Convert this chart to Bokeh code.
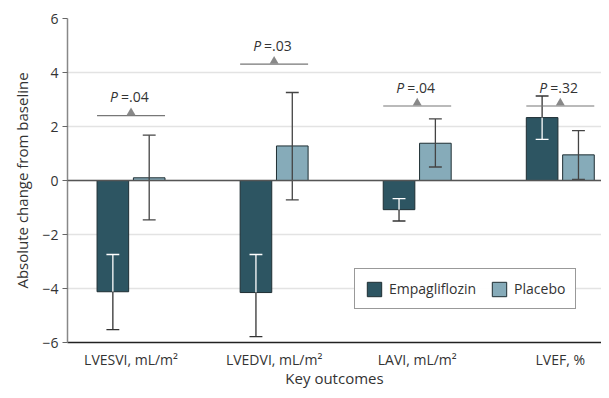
from bokeh.plotting import figure
from bokeh.models import FixedTicker, Span, Range1d, Legend, LegendItem
from bokeh.core.properties import value
from bokeh.embed import file_html
from bokeh.resources import INLINE

# ---- data ----
categories = ["LVESVI, mL/m\u00b2", "LVEDVI, mL/m\u00b2", "LAVI, mL/m\u00b2", "LVEF, %"]
empa_mean = [-4.12, -4.15, -1.08, 2.33]
empa_low = [-5.52, -5.78, -1.50, 1.52]
empa_high = [-2.74, -2.74, -0.67, 3.13]
plac_mean = [0.10, 1.28, 1.38, 0.95]
plac_low = [-1.46, -0.72, 0.50, 0.04]
plac_high = [1.68, 3.26, 2.28, 1.85]
p_labels = ["=.04", "=.03", "=.04", "=.32"]
p_text_y = [3.10, 5.00, 3.44, 3.44]
p_line_y = [2.40, 4.31, 2.76, 2.76]
y_ticks = [-6, -4, -2, 0, 2, 4, 6]

FONT = "Open Sans"
TXT = "#333333"
EMPA = "#2d5562"
PLAC = "#86abb9"

x_lo, x_hi = 0.556, 4.288
p = figure(width=601, height=390, output_backend="svg", toolbar_location=None,
           x_range=Range1d(x_lo, x_hi), y_range=Range1d(-6, 6),
           min_border_left=67, min_border_right=0, min_border_top=18, min_border_bottom=45)
p.outline_line_color = None
p.background_fill_color = "white"

xs = [i + 1 for i in range(len(categories))]
off = 0.127
bw = 0.221
cap = 0.045
ex = [x - off for x in xs]
px = [x + off for x in xs]

# grid
p.xgrid.grid_line_color = None
p.ygrid.grid_line_color = "#e3e3e3"
p.ygrid.grid_line_width = 1.5
p.yaxis.ticker = FixedTicker(ticks=y_ticks)
p.xaxis.ticker = FixedTicker(ticks=xs)
p.xaxis.major_label_overrides = {x: c for x, c in zip(xs, categories)}

zero = Span(location=0, dimension="width", line_color="#555555", line_width=1.5)
p.add_layout(zero)

r_e = p.vbar(x=ex, top=empa_mean, bottom=0, width=bw, fill_color=EMPA, line_color="#1e2e33", line_width=1)
r_p = p.vbar(x=px, top=plac_mean, bottom=0, width=bw, fill_color=PLAC, line_color="#1e2e33", line_width=1)

# error bars: split into inside (toward zero) and outside parts
def split(mean, low, high):
    ins_end, out_end = [], []
    for m, l, h in zip(mean, low, high):
        if m >= 0:
            ins_end.append(l); out_end.append(h)
        else:
            ins_end.append(h); out_end.append(l)
    return ins_end, out_end

e_in, e_out = split(empa_mean, empa_low, empa_high)
p.segment(x0=ex, y0=empa_mean, x1=ex, y1=e_in, line_color="white", line_width=1.3)
p.segment(x0=[x - cap for x in ex], y0=e_in, x1=[x + cap for x in ex], y1=e_in, line_color="white", line_width=1.3)
p.segment(x0=ex, y0=empa_mean, x1=ex, y1=e_out, line_color="#333333", line_width=1.3)
p.segment(x0=[x - cap for x in ex], y0=e_out, x1=[x + cap for x in ex], y1=e_out, line_color="#333333", line_width=1.3)

p.segment(x0=px, y0=plac_low, x1=px, y1=plac_high, line_color="#444444", line_width=1.3)
p.segment(x0=[x - cap for x in px], y0=plac_low, x1=[x + cap for x in px], y1=plac_low, line_color="#444444", line_width=1.3)
p.segment(x0=[x - cap for x in px], y0=plac_high, x1=[x + cap for x in px], y1=plac_high, line_color="#444444", line_width=1.3)

# P-value annotations
p.segment(x0=[x - off - bw / 2 for x in xs], y0=p_line_y, x1=[x + off + bw / 2 for x in xs], y1=p_line_y,
          line_color="#777777", line_width=1.2)
p.scatter(x=xs, y=[y + 0.11 for y in p_line_y], marker="triangle", size=9, fill_color="#888888", line_color=None)
p.text(x=xs, y=p_text_y, text=["P"] * 4, text_font=value(FONT), text_font_style="italic",
       text_font_size="14px", text_color=TXT, text_align="right", text_baseline="middle", x_offset=-13)
p.text(x=xs, y=p_text_y, text=p_labels, text_font=value(FONT),
       text_font_size="14px", text_color=TXT, text_align="left", text_baseline="middle", x_offset=-10)

# axes
p.yaxis.axis_label = "Absolute change from baseline"
p.xaxis.axis_label = "Key outcomes"
for ax in (p.xaxis, p.yaxis):
    ax.axis_label_text_font = FONT
    ax.axis_label_text_font_size = "15px"
    ax.axis_label_text_font_style = "normal"
    ax.axis_label_text_color = TXT
    ax.major_label_text_font = FONT
    ax.major_label_text_font_size = "14px"
    ax.major_label_text_color = TXT
    ax.minor_tick_line_color = None
p.yaxis.axis_line_color = "#888888"
p.yaxis.axis_line_width = 1.5
p.yaxis.major_tick_line_color = "#666666"
p.yaxis.major_tick_out = 5
p.yaxis.major_tick_in = 0
p.yaxis.major_label_standoff = 4
p.yaxis.axis_label_standoff = 7
p.xaxis.axis_line_color = "#222222"
p.xaxis.axis_line_width = 1.5
p.xaxis.major_tick_line_color = None
p.xaxis.major_tick_out = 0
p.xaxis.major_tick_in = 0
p.xaxis.major_label_standoff = 7
p.xaxis.axis_label_standoff = -4

legend = Legend(items=[LegendItem(label="Empagliflozin", renderers=[r_e]),
                       LegendItem(label="Placebo", renderers=[r_p])],
                orientation="horizontal", location=(287, 33))
legend.label_text_font = FONT
legend.label_text_font_size = "14px"
legend.label_text_color = TXT
legend.border_line_color = "#333333"
legend.border_line_width = 1.2
legend.glyph_width = 18
legend.glyph_height = 18
legend.padding = 10
legend.spacing = 14
legend.label_standoff = 6
legend.margin = 0
p.add_layout(legend)

open("out.html", "w").write(file_html(p, INLINE))
